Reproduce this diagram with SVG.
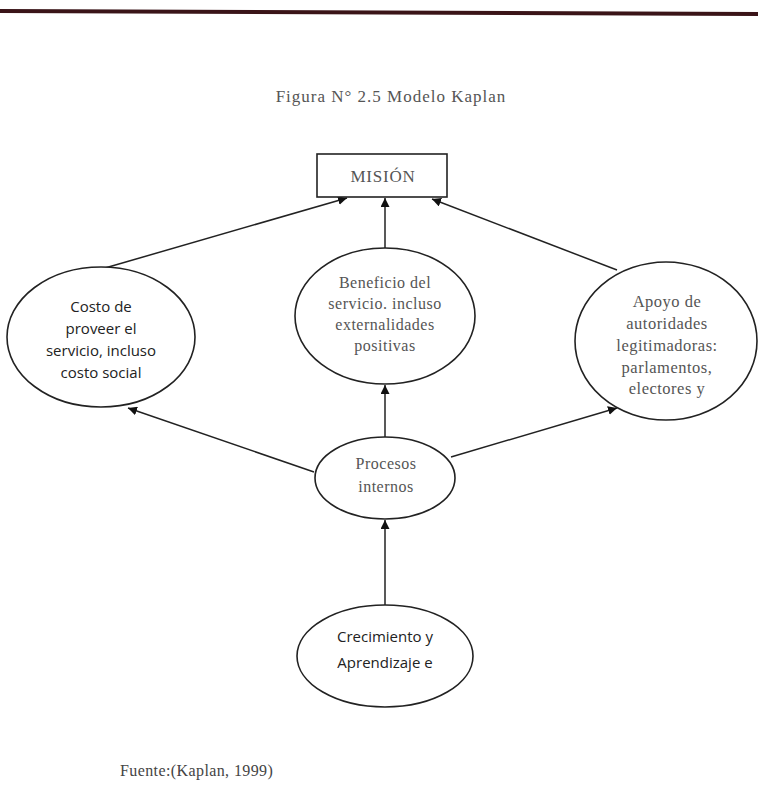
<svg xmlns="http://www.w3.org/2000/svg" width="760" height="803" viewBox="0 0 760 803">
<defs>
<marker id="ah" viewBox="0 0 10 10" refX="10" refY="5" markerWidth="9" markerHeight="9" markerUnits="userSpaceOnUse" orient="auto">
<path d="M0,0 L10,5 L0,10 z" fill="#111"/>
</marker>
</defs>
<style>
.shape{fill:#fff;stroke:#222;stroke-width:1.6}
.conn{stroke:#222;stroke-width:1.5;fill:none;marker-end:url(#ah)}
.serif{font-family:"Liberation Serif","Times New Roman",serif;fill:#555;font-size:16px;letter-spacing:0.5px;text-anchor:middle}
.sans{font-family:"Open Sans","Liberation Sans",Arial,sans-serif;fill:#222;font-size:15px;text-anchor:middle}
</style>
<rect width="760" height="803" fill="#fff"/>
<polygon points="0,9 758,12 758,16 0,13" fill="#3a1418"/>
<text x="391" y="102" class="serif" style="font-size:17px;letter-spacing:1px">Figura N° 2.5 Modelo Kaplan</text>
<g id="connectors">
<line x1="105" y1="268" x2="347" y2="198" class="conn"/>
<line x1="385" y1="248" x2="385" y2="198" class="conn"/>
<line x1="617" y1="270" x2="432" y2="199" class="conn"/>
<line x1="314" y1="472" x2="128" y2="408" class="conn"/>
<line x1="385" y1="437" x2="385" y2="385" class="conn"/>
<line x1="451" y1="457" x2="617" y2="408" class="conn"/>
<line x1="385" y1="605" x2="385" y2="520" class="conn"/>
</g>
<g id="mision">
<rect x="317" y="154" width="130" height="43" class="shape"/>
<text x="383" y="182" class="serif" style="font-size:17px;letter-spacing:0.8px">MISIÓN</text>
</g>
<g id="costo">
<ellipse cx="101" cy="337" rx="94" ry="70" class="shape"/>
<text class="sans"><tspan x="101" y="312">Costo de</tspan><tspan x="101" y="334">proveer el</tspan><tspan x="101" y="356">servicio, incluso</tspan><tspan x="101" y="378">costo social</tspan></text>
</g>
<g id="beneficio">
<ellipse cx="385" cy="316" rx="90" ry="68" class="shape"/>
<text class="serif"><tspan x="385" y="288">Beneficio del</tspan><tspan x="385" y="309">servicio. incluso</tspan><tspan x="385" y="330">externalidades</tspan><tspan x="385" y="351">positivas</tspan></text>
</g>
<g id="apoyo">
<ellipse cx="666" cy="341" rx="91" ry="79" class="shape"/>
<text class="serif" style="font-size:16.5px"><tspan x="667" y="307">Apoyo de</tspan><tspan x="667" y="329">autoridades</tspan><tspan x="667" y="351">legitimadoras:</tspan><tspan x="667" y="373">parlamentos,</tspan><tspan x="667" y="394">electores y</tspan></text>
</g>
<g id="procesos">
<ellipse cx="385" cy="478" rx="70" ry="41" class="shape"/>
<text class="serif"><tspan x="386" y="469">Procesos</tspan><tspan x="386" y="492">internos</tspan></text>
</g>
<g id="crecimiento">
<ellipse cx="385" cy="656" rx="88" ry="51" class="shape"/>
<text class="sans"><tspan x="385" y="642">Crecimiento y</tspan><tspan x="385" y="668">Aprendizaje e</tspan></text>
</g>
<text x="120" y="776" class="serif" style="text-anchor:start;fill:#444;font-size:16px;letter-spacing:0.4px">Fuente:(Kaplan, 1999)</text>
</svg>
